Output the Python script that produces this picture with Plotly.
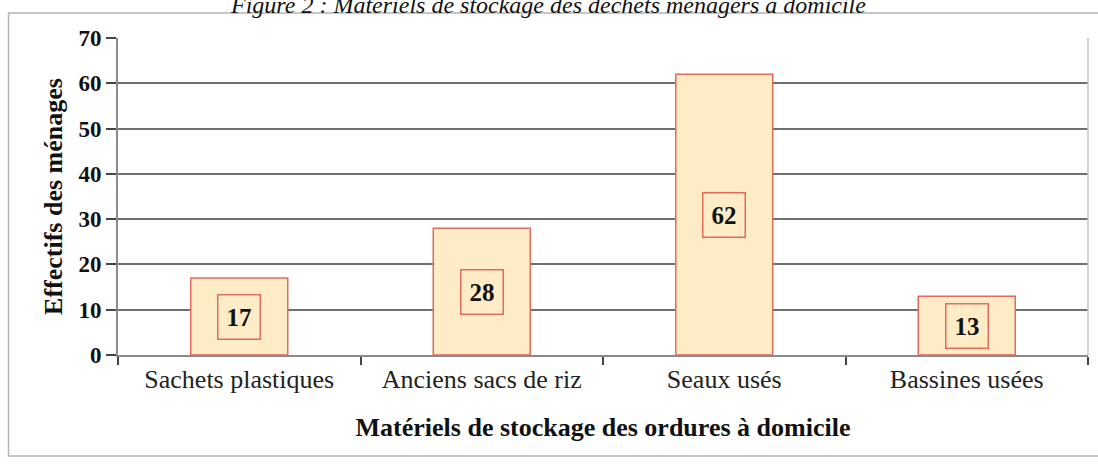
import plotly.graph_objects as go

categories = ["Sachets plastiques", "Anciens sacs de riz", "Seaux usés", "Bassines usées"]
households = [17, 28, 62, 13]
y_ticks = [0, 10, 20, 30, 40, 50, 60, 70]

title_text = "Figure 2 : Matériels de stockage des déchets ménagers à domicile"
x_title = "Matériels de stockage des ordures à domicile"
y_title = "Effectifs des ménages"

BAR_FILL = "#FDECC6"
BAR_LINE = "#E46A5C"
GRID = "#707070"
AXIS = "#8a8a8a"
SERIF = "Liberation Serif, Times New Roman, serif"

# plot area in pixels: x 118..1088, y 38..355
W, H = 1098, 464
L, R, T, B = 118, 10, 38, 109


def px_to_paper_x(px):
    return (px - L) / (W - L - R)


def px_to_paper_y(py):
    return (H - B - py) / (H - T - B)


fig = go.Figure()
fig.add_trace(
    go.Bar(
        x=categories,
        y=households,
        marker={"color": BAR_FILL, "line": {"color": BAR_LINE, "width": 1.5}},
        hoverinfo="x+y",
    )
)

# boxed value labels in the middle of each bar
for cat, val in zip(categories, households):
    fig.add_annotation(
        x=cat,
        y=val / 2,
        text=f"<b>{val}</b>",
        showarrow=False,
        font={"family": SERIF, "size": 25, "color": "#111111"},
        bgcolor=BAR_FILL,
        bordercolor=BAR_LINE,
        borderwidth=1.5,
        borderpad=8,
    )

# clipped figure caption at the very top
fig.add_annotation(
    xref="paper",
    yref="paper",
    x=px_to_paper_x(548),
    y=px_to_paper_y(5.5),
    text=f"<i>{title_text}</i>",
    showarrow=False,
    xanchor="center",
    yanchor="middle",
    font={"family": SERIF, "size": 24, "color": "#111111"},
)

# outer frame of the chart
fig.add_shape(
    type="rect",
    xref="paper",
    yref="paper",
    x0=px_to_paper_x(8.5),
    x1=px_to_paper_x(1110),
    y0=px_to_paper_y(456),
    y1=px_to_paper_y(13),
    line={"color": "#b4b4b4", "width": 1.5},
    layer="below",
)
# light right edge of the plot area
fig.add_shape(
    type="line",
    xref="paper",
    yref="paper",
    x0=1,
    x1=1,
    y0=0,
    y1=1,
    line={"color": "#c4c4c4", "width": 1.5},
)

fig.update_layout(
    width=W,
    height=H,
    margin={"l": L, "r": R, "t": T, "b": B},
    paper_bgcolor="white",
    plot_bgcolor="white",
    showlegend=False,
    bargap=0.6,
    font={"family": SERIF, "color": "#111111"},
    xaxis={
        "type": "category",
        "tickson": "boundaries",
        "ticks": "outside",
        "ticklen": 8,
        "tickcolor": "#444444",
        "tickwidth": 1.5,
        "showline": True,
        "linecolor": AXIS,
        "linewidth": 2,
        "showgrid": False,
        "tickfont": {"family": SERIF, "size": 26, "color": "#222222"},
        "title": {
            "text": f"<b>{x_title}</b>",
            "font": {"family": SERIF, "size": 26, "color": "#111111"},
            "standoff": 25,
        },
    },
    yaxis={
        "range": [0, 70],
        "tickvals": y_ticks,
        "ticktext": [f"<b>{v}</b>" for v in y_ticks],
        "ticks": "outside",
        "ticklen": 10,
        "tickcolor": "#444444",
        "tickwidth": 1.5,
        "showline": True,
        "linecolor": AXIS,
        "linewidth": 2,
        "showgrid": True,
        "gridcolor": GRID,
        "gridwidth": 1.5,
        "zeroline": False,
        "tickfont": {"family": SERIF, "size": 23, "color": "#111111"},
        "title": {
            "text": f"<b>{y_title}</b>",
            "font": {"family": SERIF, "size": 26, "color": "#111111"},
            "standoff": 8,
        },
    },
)

# drop the default page margin so the figure sits at the window's corner
fig.write_html(
    "out.html",
    config={"displayModeBar": False},
    post_script="document.body.style.margin = '0';",
)
